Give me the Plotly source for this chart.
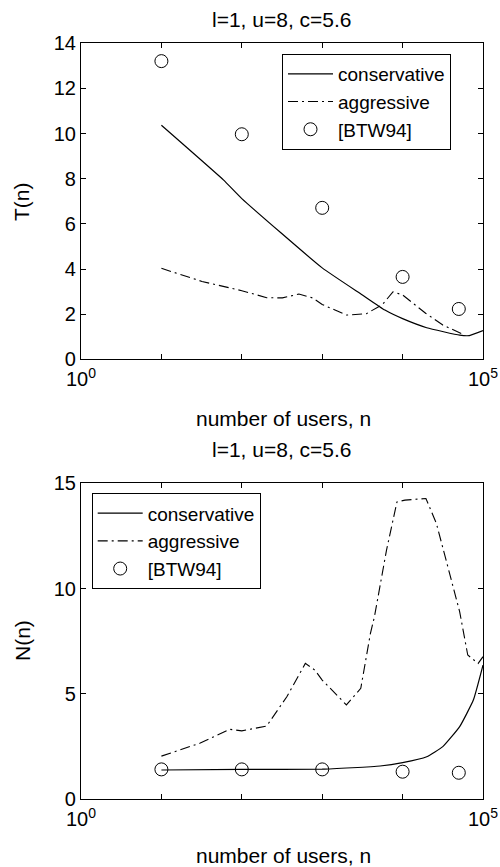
import plotly.graph_objects as go

# ---------------- data ----------------
# Top panel: T(n)
top_cons_n = [10, 59, 100, 1000, 3162, 6026, 10000, 19953, 51286, 67608, 100000]
top_cons_T = [10.37, 7.95, 7.12, 4.05, 2.85, 2.18, 1.80, 1.40, 1.07, 1.05, 1.27]

top_aggr_n = [10, 32, 100, 204, 320, 513, 759, 1000, 2000, 3548, 5623, 7586, 10000, 19498, 31623, 58884]
top_aggr_T = [4.03, 3.45, 3.04, 2.73, 2.72, 2.89, 2.72, 2.43, 1.96, 2.02, 2.43, 2.99, 2.85, 2.03, 1.52, 1.07]

btw_n = [10, 100, 1000, 10000, 50000]
top_btw_T = [13.21, 9.97, 6.71, 3.65, 2.23]

# Bottom panel: N(n)
bot_cons_n = [10, 100, 1000, 5248, 10000, 19953, 31623, 51286, 75858, 100000]
bot_cons_N = [1.39, 1.42, 1.43, 1.58, 1.74, 2.02, 2.50, 3.45, 4.71, 6.37]

bot_aggr_n = [10, 30, 71, 100, 204, 363, 617, 813, 1000, 2000, 3020, 3981, 4467,
              6310, 8511, 10700, 19500, 26300, 34700, 51300, 64600, 87100, 100000]
bot_aggr_N = [2.05, 2.66, 3.32, 3.25, 3.48, 4.87, 6.45, 6.13, 5.66, 4.48, 5.27, 7.88, 8.67,
              11.83, 14.12, 14.20, 14.28, 13.10, 11.36, 8.90, 6.85, 6.45, 6.77]

bot_btw_N = [1.42, 1.42, 1.42, 1.31, 1.26]

title_text = "l=1, u=8, c=5.6"
xlabel = "number of users, n"
x_labeled_ticks = [1, 100000]
x_ticktext = ["10<sup>0</sup>", "10<sup>5</sup>"]
x_minor_ticks = [10, 100, 1000, 10000]
top_yticks = [0, 2, 4, 6, 8, 10, 12, 14]
bot_yticks = [0, 5, 10, 15]

# ---------------- figure ----------------
FONT = "Liberation Sans, Arial, Helvetica, sans-serif"
W, H = 500, 867
ML, MR = 81, 17
PW = W - ML - MR

def px_x(px):
    return (px - ML) / PW

def px_y(py):
    return 1 - py / H

fig = go.Figure()
dash_dot = "10px,4px,2px,4px"

fig.add_trace(go.Scatter(x=top_cons_n, y=top_cons_T, mode="lines", name="conservative",
                         line=dict(color="black", width=1.2, shape="spline", smoothing=0.4),
                         xaxis="x", yaxis="y", legend="legend"))
fig.add_trace(go.Scatter(x=top_aggr_n, y=top_aggr_T, mode="lines", name="aggressive",
                         line=dict(color="black", width=1.1, dash=dash_dot),
                         xaxis="x", yaxis="y", legend="legend"))
fig.add_trace(go.Scatter(x=btw_n, y=top_btw_T, mode="markers", name="[BTW94]",
                         marker=dict(symbol="circle-open", size=13, color="black", line=dict(width=1)),
                         xaxis="x", yaxis="y", legend="legend"))

fig.add_trace(go.Scatter(x=bot_cons_n, y=bot_cons_N, mode="lines", name="conservative",
                         line=dict(color="black", width=1.2, shape="spline", smoothing=0.4),
                         xaxis="x2", yaxis="y2", legend="legend2"))
fig.add_trace(go.Scatter(x=bot_aggr_n, y=bot_aggr_N, mode="lines", name="aggressive",
                         line=dict(color="black", width=1.1, dash=dash_dot),
                         xaxis="x2", yaxis="y2", legend="legend2"))
fig.add_trace(go.Scatter(x=btw_n, y=bot_btw_N, mode="markers", name="[BTW94]",
                         marker=dict(symbol="circle-open", size=13, color="black", line=dict(width=1)),
                         xaxis="x2", yaxis="y2", legend="legend2"))

axis_common = dict(showline=True, linecolor="black", linewidth=1.2, mirror="ticks",
                   ticks="inside", ticklen=5, tickcolor="black", showgrid=False,
                   zeroline=False, automargin=False,
                   tickfont=dict(family=FONT, size=20, color="black"))

x_common = dict(type="log", range=[0, 5], tickvals=x_labeled_ticks, ticktext=x_ticktext,
                ticklabelstandoff=2,
                minor=dict(tickvals=x_minor_ticks, ticks="inside", ticklen=5,
                           tickcolor="black", showgrid=False),
                **axis_common)

top_dom = [px_y(359.3), px_y(43.3)]
bot_dom = [px_y(799.3), px_y(483.3)]

legend_common = dict(xanchor="left", yanchor="top", bgcolor="white", bordercolor="black",
                     borderwidth=1, itemwidth=45, tracegroupgap=0,
                     font=dict(family=FONT, size=19, color="black"))

fig.update_layout(
    template="none",
    width=W, height=H,
    margin=dict(l=ML, r=MR, t=0, b=0, autoexpand=False),
    paper_bgcolor="white", plot_bgcolor="white",
    font=dict(family=FONT, size=20, color="black"),
    xaxis=dict(anchor="y", **x_common),
    yaxis=dict(range=[0, 14], tickvals=top_yticks, domain=top_dom, anchor="x", **axis_common),
    xaxis2=dict(anchor="y2", **x_common),
    yaxis2=dict(range=[0, 15], tickvals=bot_yticks, domain=bot_dom, anchor="x2", **axis_common),
    legend=dict(x=px_x(282), y=px_y(54), **legend_common),
    legend2=dict(x=px_x(91.7), y=px_y(493.3), **legend_common),
    showlegend=True,
)

ann = dict(xref="paper", yref="paper", showarrow=False,
           font=dict(family=FONT, size=21, color="black"))
fig.add_annotation(text=title_text, x=px_x(282), y=px_y(20), xanchor="center", yanchor="middle", **ann)
fig.add_annotation(text=xlabel, x=px_x(283), y=px_y(418), xanchor="center", yanchor="middle", **ann)
fig.add_annotation(text=title_text, x=px_x(282), y=px_y(449), xanchor="center", yanchor="middle", **ann)
fig.add_annotation(text=xlabel, x=px_x(283), y=px_y(855), xanchor="center", yanchor="middle", **ann)
fig.add_annotation(text="T(n)", x=px_x(22), y=px_y(202), xanchor="center", yanchor="middle",
                   textangle=-90, **ann)
fig.add_annotation(text="N(n)", x=px_x(22), y=px_y(641), xanchor="center", yanchor="middle",
                   textangle=-90, **ann)

fig.write_html("out.html", config={"displayModeBar": False},
               post_script="document.body.style.margin='0';document.body.style.overflow='hidden';")
